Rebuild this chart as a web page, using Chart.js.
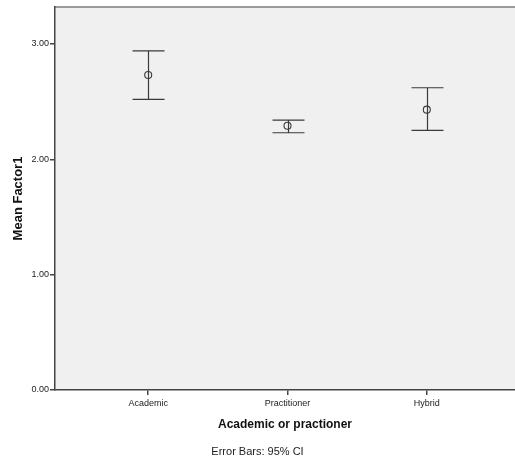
<!DOCTYPE html>
<html>
<head>
<meta charset="utf-8">
<script src="https://cdn.jsdelivr.net/npm/chart.js@4/dist/chart.umd.min.js"></script>
<style>
html,body{margin:0;padding:0;background:#fff;}
#wrap{width:515px;height:469px;position:relative;}
</style>
</head>
<body>
<div id="wrap"><canvas id="c" width="515" height="469"></canvas></div>
<script>
const categories = ['Academic', 'Practitioner', 'Hybrid'];
const means = [2.73, 2.29, 2.43];
const ciLower = [2.52, 2.23, 2.25];
const ciUpper = [2.94, 2.34, 2.62];
const yTickValues = [0, 1, 2, 3];
const yMax = 3.32;
const xMin = 0.331, xMax = 3.633;

const FONT = '"Liberation Sans", Arial, sans-serif';

const bgPlugin = {
  id: 'bg',
  beforeDraw(chart) {
    const {ctx, chartArea: a} = chart;
    ctx.save();
    ctx.fillStyle = '#f0f0f0';
    ctx.fillRect(a.left, a.top, a.right - a.left, a.bottom - a.top);
    ctx.strokeStyle = '#9a9a9a';
    ctx.lineWidth = 2;
    ctx.beginPath();
    ctx.moveTo(a.left, a.top);
    ctx.lineTo(a.right, a.top);
    ctx.stroke();
    ctx.restore();
  }
};

const errPlugin = {
  id: 'err',
  beforeDatasetsDraw(chart) {
    const {ctx, scales: {x, y}} = chart;
    ctx.save();
    ctx.strokeStyle = '#3a3a3a';
    ctx.lineWidth = 1.2;
    categories.forEach((c, i) => {
      const px = Math.round(x.getPixelForValue(i + 1)) + 0.5;
      const yl = y.getPixelForValue(ciLower[i]);
      const yu = y.getPixelForValue(ciUpper[i]);
      const hw = 16;
      ctx.beginPath();
      ctx.moveTo(px, yu); ctx.lineTo(px, yl);
      ctx.moveTo(px - hw, yu); ctx.lineTo(px + hw, yu);
      ctx.moveTo(px - hw, yl); ctx.lineTo(px + hw, yl);
      ctx.stroke();
    });
    ctx.restore();
  }
};

new Chart(document.getElementById('c'), {
  type: 'scatter',
  data: {
    datasets: [{
      data: means.map((m, i) => ({x: i + 1, y: m})),
      pointStyle: 'circle',
      pointRadius: 3.5,
      pointHoverRadius: 3.5,
      backgroundColor: 'rgba(0,0,0,0)',
      borderColor: '#3a3a3a',
      borderWidth: 1.1
    }]
  },
  options: {
    responsive: false,
    animation: false,
    devicePixelRatio: 1,
    layout: {autoPadding: false, padding: {top: 7, right: 0, left: 0, bottom: 0}},
    plugins: {
      legend: {display: false},
      tooltip: {enabled: false},
      title: {
        display: true,
        position: 'bottom',
        text: 'Error Bars: 95% CI',
        color: '#222',
        font: {family: FONT, size: 11, weight: 'normal'},
        padding: {top: 6, bottom: 10}
      }
    },
    scales: {
      x: {
        type: 'linear',
        min: xMin,
        max: xMax,
        afterBuildTicks(scale) { scale.ticks = categories.map((c, i) => ({value: i + 1})); },
        afterFit(scale) { scale.height = 49.8; scale.paddingLeft = 0; scale.paddingRight = 0; },
        ticks: {
          callback: (v) => categories[v - 1] || '',
          color: '#222',
          font: {family: FONT, size: 9},
          padding: 3,
          maxRotation: 0,
          autoSkip: false
        },
        grid: {drawOnChartArea: false, drawTicks: true, tickLength: 5, color: '#444', lineWidth: 1.5},
        border: {display: true, color: '#444', width: 1.5},
        title: {
          display: true,
          text: 'Academic or practioner',
          color: '#111',
          font: {family: FONT, size: 12, weight: 'bold'},
          padding: {top: 0, bottom: 8}
        }
      },
      y: {
        type: 'linear',
        min: 0,
        max: yMax,
        afterBuildTicks(scale) { scale.ticks = yTickValues.map(v => ({value: v})); },
        afterFit(scale) { scale.width = 55; scale.paddingTop = 0; scale.paddingBottom = 0; },
        ticks: {
          callback: (v) => Number(v).toFixed(2),
          color: '#222',
          font: {family: FONT, size: 9},
          padding: 1
        },
        grid: {drawOnChartArea: false, drawTicks: true, tickLength: 5, color: '#444', lineWidth: 1.5},
        border: {display: true, color: '#444', width: 1.5},
        title: {
          display: true,
          text: 'Mean Factor1',
          color: '#111',
          font: {family: FONT, size: 13, weight: 'bold'},
          padding: {top: 11, bottom: 0}
        }
      }
    }
  },
  plugins: [bgPlugin, errPlugin]
});
</script>
</body>
</html>
